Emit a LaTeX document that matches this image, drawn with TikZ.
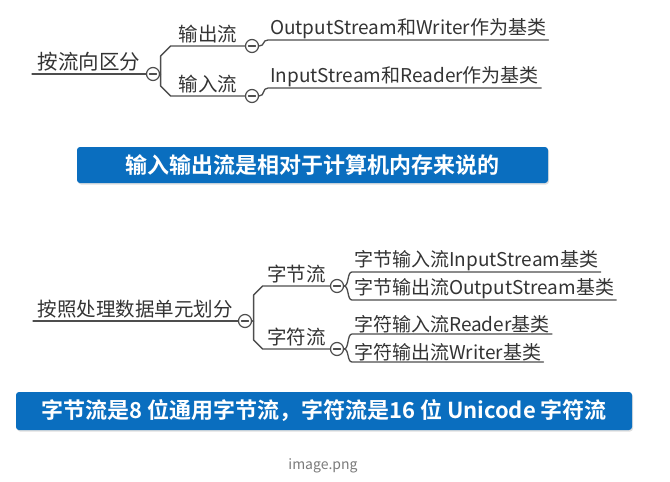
\documentclass[tikz,border=0pt]{standalone}
\usepackage{fontspec}
\setmainfont{Noto Sans CJK SC}[BoldFont={Noto Sans CJK SC Bold}]
\usepackage{tikz}
\usetikzlibrary{positioning,calc,shadows}
\definecolor{ink}{HTML}{333333}
\definecolor{wirec}{HTML}{4D4D4D}
\definecolor{boxblue}{HTML}{0A6EBF}
\definecolor{capgray}{HTML}{7A7A7A}
\tikzset{
    every picture/.style={line cap=round,line join=round},
    wire/.style={draw=wirec,line width=1.3pt},
    fold/.style={circle,draw=wirec,fill=white,line width=1.2pt,
      minimum size=13pt,inner sep=0pt,
      path picture={\draw[wirec,line width=1.2pt]
        ([xshift=-3.5pt]path picture bounding box.center) --
        ([xshift=3.5pt]path picture bounding box.center);}},
    topic/.style={text=ink,font=\fontsize{19.5}{22}\selectfont,inner sep=2pt},
    leaf/.style={topic,font=\fontsize{19}{22}\selectfont,anchor=south west,inner xsep=2pt,inner ysep=1pt},
    banner/.style={fill=boxblue,rounded corners=3pt,text=white,
      font=\fontsize{22}{25}\selectfont\bfseries,
      drop shadow={opacity=0.25,shadow xshift=1pt,shadow yshift=-1.5pt}}
}
\begin{document}
\begin{tikzpicture}[x=1pt,y=-1pt]
    \useasboundingbox (0,0) rectangle (670,482);
    % by direction
    \coordinate (s1) at (32,74);
    \node[fold] (f1) at (153,74) {};
    \draw[wire] (s1) -- node[topic,above,font=\fontsize{20.5}{22}\selectfont] (r1) {按流向区分} (f1);
    \node[fold] (f2) at (252,46) {};
    \node[fold] (f3) at (252,96) {};
    \draw[wire] (f1.east) -- ++(0.5,0) -- ++(0,-18) -- ++(10,-10) -- node[topic,above] (t2) {输出流} (f2);
    \draw[wire] (f1.east) -- ++(0.5,0) -- ++(0,12) -- ++(10,10) -- node[topic,above] (t3) {输入流} (f3);
    \node[leaf] (l1) at (268,40) {OutputStream和Writer作为基类};
    \node[leaf] (l2) at (268,88) {InputStream和Reader作为基类};
    \draw[wire] (f2.east) .. controls +(6,0) and +(-6,0) .. (l1.south west) -- (l1.south east);
    \draw[wire] (f3.east) .. controls +(6,0) and +(-6,0) .. (l2.south west) -- (l2.south east);
    \node[banner,minimum width=471pt,minimum height=36pt] (b1) at (312.5,165) {输入输出流是相对于计算机内存来说的};
    % by data unit
    \coordinate (s2) at (33,321);
    \node[fold] (f4) at (245,321) {};
    \draw[wire] (s2) -- node[topic,above] (r2) {按照处理数据单元划分} (f4);
    \node[fold] (f5) at (337,286) {};
    \node[fold] (f6) at (337,349) {};
    \draw[wire] (f4.east) -- ++(1.5,0) -- ++(0,-26) -- ++(9,-9) -- node[topic,above] (t5) {字节流} (f5);
    \draw[wire] (f4.east) -- ++(1.5,0) -- ++(0,19) -- ++(9,9) -- node[topic,above] (t6) {字符流} (f6);
    \node[leaf] (l3) at (352,272) {字节输入流InputStream基类};
    \node[leaf] (l4) at (352,300) {字节输出流OutputStream基类};
    \node[leaf] (l5) at (352,334) {字符输入流Reader基类};
    \node[leaf] (l6) at (352,362) {字符输出流Writer基类};
    \draw[wire] (f5.east) .. controls +(5,0) and +(-5,0) .. (l3.south west) -- (l3.south east);
    \draw[wire] (f5.east) .. controls +(5,0) and +(-5,0) .. (l4.south west) -- (l4.south east);
    \draw[wire] (f6.east) .. controls +(5,0) and +(-5,0) .. (l5.south west) -- (l5.south east);
    \draw[wire] (f6.east) .. controls +(5,0) and +(-5,0) .. (l6.south west) -- (l6.south east);
    \node[banner,minimum width=616pt,minimum height=38pt] (b2) at (324,411) {字节流是8 位通用字节流，字符流是16 位 Unicode 字符流};
    \node[text=capgray,font=\fontsize{14}{16}\selectfont] (cap) at (323,466) {image.png};
\end{tikzpicture}
\end{document}
